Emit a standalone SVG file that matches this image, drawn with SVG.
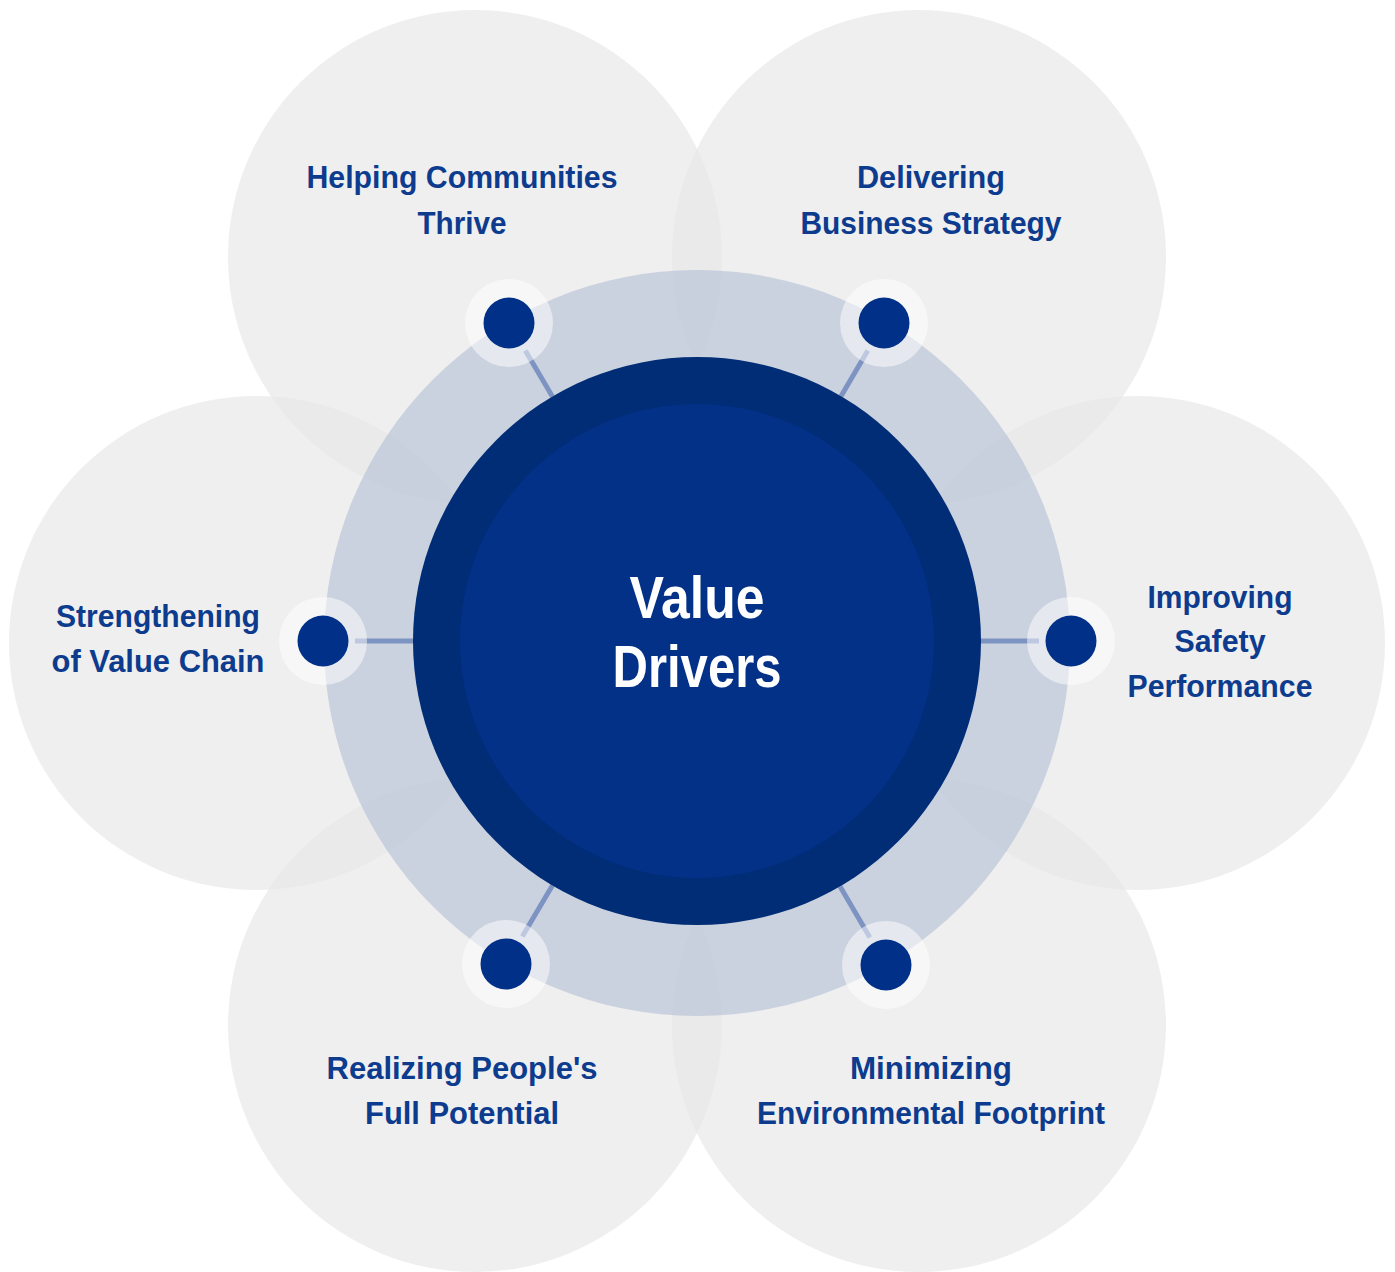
<svg xmlns="http://www.w3.org/2000/svg" width="1395" height="1272" viewBox="0 0 1395 1272">
<style>
.petal{fill:#e6e6e6;fill-opacity:0.65}
.ring{fill:#a7b5cf;fill-opacity:0.5}
.conn{stroke:#7d93c2;stroke-width:5;fill:none}
.halo{fill:#ffffff;fill-opacity:0.5}
.dot{fill:#003087}
.lbl{font-family:"Liberation Sans",Arial,sans-serif;font-weight:bold;font-size:32px;fill:#0d3b8e;text-anchor:middle}
.ctr{font-family:"Liberation Sans",Arial,sans-serif;font-weight:bold;font-size:60px;fill:#ffffff;text-anchor:middle}
</style>
<rect width="1395" height="1272" fill="#ffffff"/>
<g id="petals">
<circle class="petal" cx="475" cy="257" r="247"/>
<circle class="petal" cx="919" cy="257" r="247"/>
<circle class="petal" cx="256" cy="643" r="247"/>
<circle class="petal" cx="1138" cy="643" r="247"/>
<circle class="petal" cx="475" cy="1025" r="247"/>
<circle class="petal" cx="919" cy="1025" r="247"/>
</g>
<circle id="ring" class="ring" cx="697" cy="643" r="373"/>
<g id="connectors">
<line class="conn" x1="525.3" y1="350.6" x2="552.4" y2="396.5"/>
<line class="conn" x1="867.8" y1="350.6" x2="841" y2="396.2"/>
<line class="conn" x1="355" y1="641" x2="414" y2="641"/>
<line class="conn" x1="1039" y1="641" x2="980" y2="641"/>
<line class="conn" x1="522.3" y1="936.4" x2="552.4" y2="885.5"/>
<line class="conn" x1="869.9" y1="937.4" x2="840.1" y2="886.4"/>
</g>
<g id="center">
<circle cx="697" cy="641" r="284" fill="#012d76"/>
<circle cx="697" cy="641" r="237" fill="#033188"/>
<text class="ctr" x="697" y="618" textLength="135" lengthAdjust="spacingAndGlyphs">Value</text>
<text class="ctr" x="697" y="687" textLength="169" lengthAdjust="spacingAndGlyphs">Drivers</text>
</g>
<g id="node-communities">
<circle class="halo" cx="509" cy="323" r="44"/>
<circle class="dot" cx="509" cy="323" r="25.5"/>
<text class="lbl" x="462" y="188" textLength="311" lengthAdjust="spacingAndGlyphs">Helping Communities</text>
<text class="lbl" x="462" y="234" textLength="89" lengthAdjust="spacingAndGlyphs">Thrive</text>
</g>
<g id="node-strategy">
<circle class="halo" cx="884" cy="323" r="44"/>
<circle class="dot" cx="884" cy="323" r="25.5"/>
<text class="lbl" x="931" y="188" textLength="148" lengthAdjust="spacingAndGlyphs">Delivering</text>
<text class="lbl" x="931" y="234" textLength="261" lengthAdjust="spacingAndGlyphs">Business Strategy</text>
</g>
<g id="node-valuechain">
<circle class="halo" cx="323" cy="641" r="44"/>
<circle class="dot" cx="323" cy="641" r="25.5"/>
<text class="lbl" x="158" y="627" textLength="204" lengthAdjust="spacingAndGlyphs">Strengthening</text>
<text class="lbl" x="158" y="672" textLength="213" lengthAdjust="spacingAndGlyphs">of Value Chain</text>
</g>
<g id="node-safety">
<circle class="halo" cx="1071" cy="641" r="44"/>
<circle class="dot" cx="1071" cy="641" r="25.5"/>
<text class="lbl" x="1220" y="608" textLength="145" lengthAdjust="spacingAndGlyphs">Improving</text>
<text class="lbl" x="1220" y="652" textLength="91" lengthAdjust="spacingAndGlyphs">Safety</text>
<text class="lbl" x="1220" y="697" textLength="185" lengthAdjust="spacingAndGlyphs">Performance</text>
</g>
<g id="node-people">
<circle class="halo" cx="506" cy="964" r="44"/>
<circle class="dot" cx="506" cy="964" r="25.5"/>
<text class="lbl" x="462" y="1079" textLength="271" lengthAdjust="spacingAndGlyphs">Realizing People's</text>
<text class="lbl" x="462" y="1124" textLength="194" lengthAdjust="spacingAndGlyphs">Full Potential</text>
</g>
<g id="node-environment">
<circle class="halo" cx="886" cy="965" r="44"/>
<circle class="dot" cx="886" cy="965" r="25.5"/>
<text class="lbl" x="931" y="1079" textLength="162" lengthAdjust="spacingAndGlyphs">Minimizing</text>
<text class="lbl" x="931" y="1124" textLength="348" lengthAdjust="spacingAndGlyphs">Environmental Footprint</text>
</g>
</svg>
